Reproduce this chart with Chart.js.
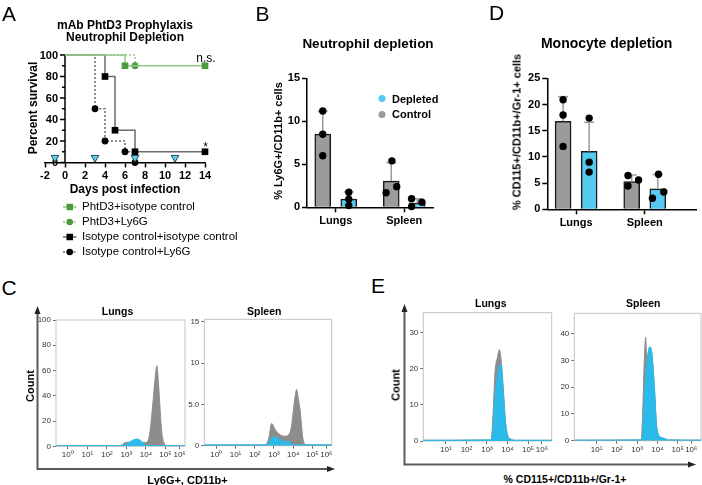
<!DOCTYPE html>
<html>
<head>
<meta charset="utf-8">
<script src="https://cdn.jsdelivr.net/npm/chart.js@4.4.1/dist/chart.umd.min.js"></script>
<style>
  body { margin: 0; background: #fff; }
  #fig { position: relative; width: 702px; height: 485px; overflow: hidden;
         font-family: Arial, "Liberation Sans", Helvetica, sans-serif; color: #000; }
  .box { position: absolute; }
  .t { position: absolute; transform: translate(-50%, -50%); white-space: nowrap; line-height: 1; }
  .r { transform: translate(-50%, -50%) rotate(-90deg); }
  .b { font-weight: bold; }
  .L { font-size: 21px; }
  .leg { position: absolute; transform: translateY(-50%); display: flex; align-items: center;
         white-space: nowrap; line-height: 1; }
</style>
</head>
<body>
<div id="fig">
  <svg width="702" height="485" style="position:absolute;left:0;top:0">
    <g stroke="#5a5a5a" stroke-width="2" fill="none">
      <polyline points="37.5,312 37.5,469 330,469"/>
      <polyline points="404.5,310 404.5,464.5 691,464.5"/>
    </g>
    <g fill="#222">
      <polygon points="37.5,306 34.5,314 40.5,314"/>
      <polygon points="335,469 327,466 327,472"/>
      <polygon points="404.5,304 401.5,312 407.5,312"/>
      <polygon points="696,464.5 688,461.5 688,467.5"/>
    </g>
  </svg>

  <div class="box" style="left:0;top:0;width:240px;height:200px"><canvas id="cA"></canvas></div>
  <div class="box" style="left:280px;top:60px;width:160px;height:175px"><canvas id="cB"></canvas></div>
  <div class="box" style="left:515px;top:60px;width:187px;height:175px"><canvas id="cD"></canvas></div>
  <div class="box" style="left:30px;top:300px;width:160px;height:165px"><canvas id="cC1"></canvas></div>
  <div class="box" style="left:180px;top:300px;width:160px;height:165px"><canvas id="cC2"></canvas></div>
  <div class="box" style="left:395px;top:295px;width:160px;height:165px"><canvas id="cE1"></canvas></div>
  <div class="box" style="left:545px;top:295px;width:157px;height:165px"><canvas id="cE2"></canvas></div>

  <div class="t L" style="left:9px;top:12.5px">A</div>
  <div class="t L" style="left:262.5px;top:12.5px">B</div>
  <div class="t L" style="left:496.5px;top:11.5px">D</div>
  <div class="t L" style="left:9px;top:286.5px">C</div>
  <div class="t L" style="left:378px;top:285px">E</div>

  <div class="t b" style="left:125px;top:24.5px;font-size:12px">mAb PhtD3 Prophylaxis</div>
  <div class="t b" style="left:125px;top:36.7px;font-size:12px">Neutrophil Depletion</div>
  <div class="t b r" style="left:33px;top:108px;font-size:12px">Percent survival</div>
  <div class="t b" style="left:125px;top:189px;font-size:12px">Days post infection</div>
  <div class="t" style="left:206px;top:58px;font-size:12px">n.s.</div>
  <div class="t" style="left:205.7px;top:147px;font-size:12px">*</div>
  <div id="legA"></div>

  <div class="t b" style="left:368px;top:43.8px;font-size:13.5px">Neutrophil depletion</div>
  <div class="t b r" style="left:277.5px;top:141px;font-size:11px">% Ly6G+/CD11b+ cells</div>
  <div id="legB"></div>

  <div class="t b" style="left:606.7px;top:42.5px;font-size:14px">Monocyte depletion</div>
  <div class="t b r" style="left:517px;top:131.7px;font-size:11px">% CD115+/CD11b+/Gr-1+ cells</div>

  <div class="t b" style="left:117.5px;top:310.5px;font-size:10.5px">Lungs</div>
  <div class="t b" style="left:264.2px;top:310.5px;font-size:10.5px">Spleen</div>
  <div class="t b r" style="left:30px;top:386px;font-size:11px">Count</div>
  <div class="t b" style="left:187.5px;top:479.5px;font-size:11px">Ly6G+, CD11b+</div>

  <div class="t b" style="left:490.8px;top:303px;font-size:10.5px">Lungs</div>
  <div class="t b" style="left:643.2px;top:303px;font-size:10.5px">Spleen</div>
  <div class="t b r" style="left:395.7px;top:385px;font-size:11px">Count</div>
  <div class="t b" style="left:565px;top:478.5px;font-size:10.5px">% CD115+/CD11b+/Gr-1+</div>
</div>

<script>
// ---- A: survival (Kaplan-Meier) ----
const survivalTicks = [0, 20, 40, 60, 80, 100];
const phtIsoDays = [0, 6, 14];
const phtIsoSurv = [100, 90, 90];
const phtLyDays  = [0, 7];
const phtLySurv  = [100, 90];
const isoIsoDays = [0, 4, 5, 7, 14];
const isoIsoSurv = [100, 80, 30, 10, 10];
const isoLyDays  = [0, 3, 4, 6, 7];
const isoLySurv  = [100, 50, 20, 10, 0];
const doseDays   = [-1, 3, 7, 11];
const doseMarkY  = 4.5;

// ---- B: neutrophil depletion ----
const organs    = ['Lungs', 'Spleen'];
const bTicks    = [0, 5, 10, 15];
const bCtrlMean = [8.5, 3.05];
const bCtrlSD   = [2.65, 2.15];
const bCtrlPts  = [[11.2, 8.5, 6.0], [5.4, 2.4, 1.7]];
const bDeplMean = [0.95, 0.48];
const bDeplSD   = [0.85, 0.5];
const bDeplPts  = [[1.75, 0.95, 0.2], [1.0, 0.58, 0.08]];

// ---- D: monocyte depletion ----
const dTicks    = [0, 5, 10, 15, 20, 25];
const dCtrlMean = [16.8, 5.3];
const dCtrlSD   = [4.7, 1.25];
const dCtrlPts  = [[20.9, 18.0, 12.0], [6.45, 5.6, 4.45]];
const dDeplMean = [11.05, 3.9];
const dDeplSD   = [5.55, 2.75];
const dDeplPts  = [[17.4, 9.0, 7.1], [6.7, 3.3, 2.1]];

// horizontal scatter of the dots (category units)
const bCtrlJit = [[0, 0, 0], [0.01, 0.08, -0.075]];
const bDeplJit = [[0, 0, 0], [-0.083, 0.068, -0.083]];
const dCtrlJit = [[0, 0, 0], [-0.054, 0.1, -0.054]];
const dDeplJit = [[0, 0, 0], [0.01, 0.088, -0.078]];

// ---- C / E: flow histograms (x in decades on display scale) ----
const cTickPos = [0, 1, 2, 3, 4, 5, 5.72];
const cTickLbl = ['10⁰', '10¹', '10²', '10³', '10⁴', '10⁵', '10⁶'];
const eTickPos = [1, 2, 3, 4, 5, 5.67];
const eTickLbl = ['10¹', '10²', '10³', '10⁴', '10⁵', '10⁶'];

const cLungX    = [-0.6, 2.6, 2.75, 2.95, 3.15, 3.35, 3.55, 3.75, 3.95, 4.1, 4.25, 4.4, 4.5, 4.56, 4.62, 4.7, 4.8, 4.93, 5.1, 6.0];
const cLungGray = [0.3, 0.3, 1.0, 3.0, 3.2, 3.5, 3.5, 3.3, 3.0, 4.0, 17, 42, 58, 63.7, 55, 36, 13, 2.5, 0.4, 0.3];
const cLungBlue = [0.4, 0.4, 0.5, 1.2, 3.2, 5.0, 5.8, 4.2, 1.2, 0.5, 0.4, 0.4, 0.4, 0.4, 0.4, 0.4, 0.4, 0.4, 0.4, 0.4];
const cLungY    = [0, 20, 40, 60, 80, 100];

const cSplX    = [-0.62, 2.55, 2.72, 2.88, 3.05, 3.3, 3.55, 3.75, 3.9, 4.02, 4.1, 4.18, 4.27, 4.36, 4.49, 4.62, 6.0];
const cSplGray = [0.08, 0.08, 0.8, 2.7, 2.0, 1.35, 1.15, 1.3, 2.2, 4.5, 6.0, 6.8, 5.6, 4.3, 1.1, 0.15, 0.08];
const cSplBlue = [0.1, 0.1, 0.3, 0.9, 1.07, 0.75, 0.45, 0.55, 0.25, 0.1, 0.1, 0.1, 0.1, 0.1, 0.1, 0.1, 0.1];
const cSplY    = [0, 5, 10, 15];
const cSplYLbl = ['0', '5.0', '10', '15'];

const eLungX    = [-0.1, 3.2, 3.3, 3.39, 3.5, 3.6, 3.68, 3.8, 3.9, 4.0, 4.15, 4.4, 6.15];
const eLungGray = [0.2, 0.3, 8, 19, 23, 25.3, 23, 14, 5.5, 1.8, 0.5, 0.2, 0.2];
const eLungBlue = [0.2, 0.3, 4, 12, 17.5, 21, 21.2, 13.2, 5, 1.6, 0.5, 0.2, 0.2];
const eLungY    = [0, 10, 20, 30];

const eSplX    = [-0.1, 3.2, 3.27, 3.33, 3.38, 3.42, 3.47, 3.55, 3.62, 3.72, 3.85, 3.95, 4.06, 4.3, 4.55, 6.15];
const eSplGray = [0.2, 0.3, 10, 25, 35, 38.7, 31, 33, 35, 33, 20, 6.5, 2.1, 0.9, 0.3, 0.2];
const eSplBlue = [0.2, 0.3, 3, 11.5, 19, 24, 28, 33, 35.2, 33, 20.2, 6.5, 2.1, 0.9, 0.3, 0.2];
const eSplY    = [0, 10, 20, 30, 40];

// colours
const greenLine = '#93c987', greenMark = '#4b9c3d';
const blackLine = '#6b6b6b', blackMark = '#000';
const barGray = '#9b9b9b', barBlue = '#56c9f0';
const histGray = '#8d8d8d', histBlue = '#2bbbea';
const groupOff = 0.19;

Chart.defaults.font.family = 'Arial, "Liberation Sans", Helvetica, sans-serif';
Chart.defaults.color = '#000';
Chart.defaults.animation = false;
Chart.defaults.maintainAspectRatio = false;
Chart.defaults.plugins.legend.display = false;
Chart.defaults.plugins.tooltip.enabled = false;

const boldTick = { weight: 'bold', size: 11 };
const axisGrid = { display: true, drawOnChartArea: false, offset: false, tickLength: 5, tickColor: '#000', tickWidth: 1.5 };
const axisBorder = { color: '#000', width: 1.5 };

// ---------------- A ----------------
const survSeries = [
  { name: 'PhtD3+isotype control', days: phtIsoDays, surv: phtIsoSurv, line: greenLine, mark: greenMark, style: 'rect', dash: false },
  { name: 'PhtD3+Ly6G', days: phtLyDays, surv: phtLySurv, line: greenLine, mark: greenMark, style: 'circle', dash: true },
  { name: 'Isotype control+isotype control', days: isoIsoDays, surv: isoIsoSurv, line: blackLine, mark: blackMark, style: 'rect', dash: false },
  { name: 'Isotype control+Ly6G', days: isoLyDays, surv: isoLySurv, line: blackLine, mark: blackMark, style: 'circle', dash: true }
];

// y axis crosses x at day 0, drawn from the y scale
const yAxisAtZero = {
  id: 'yAxisAtZero',
  beforeDatasetsDraw(chart) {
    const { ctx, scales: { x, y } } = chart;
    const px = x.getPixelForValue(0);
    ctx.save();
    ctx.strokeStyle = '#000';
    ctx.lineWidth = 1.5;
    ctx.beginPath();
    ctx.moveTo(px, y.getPixelForValue(0));
    ctx.lineTo(px, y.getPixelForValue(100));
    for (let v = 0; v <= 100; v += 10) {
      const py = y.getPixelForValue(v);
      ctx.moveTo(px - (v % 20 ? 3 : 5), py);
      ctx.lineTo(px, py);
    }
    ctx.stroke();
    ctx.fillStyle = '#000';
    ctx.font = 'bold 11px Arial, "Liberation Sans", sans-serif';
    ctx.textAlign = 'right';
    ctx.textBaseline = 'middle';
    survivalTicks.forEach(v => ctx.fillText(v, px - 7, y.getPixelForValue(v) + 0.5));
    ctx.restore();
  }
};

const survSets = survSeries.map(s => ({
  label: s.name,
  data: s.days.map((d, i) => ({ x: d, y: s.surv[i] })),
  stepped: 'before',
  borderColor: s.line,
  borderWidth: 1.5,
  borderDash: s.dash ? [2, 2] : [],
  pointStyle: s.style,
  pointRadius: s.days.map((d, i) => i === 0 ? 0 : (s.style === 'rect' ? 4.7 : 3.4)),
  pointBackgroundColor: s.mark,
  pointBorderColor: s.mark,
  pointBorderWidth: 0,
  clip: false
}));

new Chart(document.getElementById('cA'), {
  type: 'line',
  data: {
    datasets: [{
      label: 'dose',
      data: doseDays.map(d => ({ x: d, y: doseMarkY })),
      showLine: false,
      pointStyle: 'triangle',
      rotation: 180,
      pointRadius: 4.5,
      pointBackgroundColor: '#62d0e6',
      pointBorderColor: '#27475c',
      pointBorderWidth: 1,
      clip: false
    }, ...survSets]
  },
  options: {
    layout: { padding: { left: 45, right: 35, top: 55, bottom: 0 } },
    scales: {
      x: {
        type: 'linear', min: -2, max: 14,
        afterFit: s => { s.height = 37.5; },
        ticks: { stepSize: 2, font: boldTick, padding: 2, maxRotation: 0 },
        grid: axisGrid, border: axisBorder
      },
      y: { min: 0, max: 100, display: false }
    }
  },
  plugins: [yAxisAtZero]
});

// legend A
const legA = document.getElementById('legA');
survSeries.forEach((s, i) => {
  const row = document.createElement('div');
  row.className = 'leg';
  row.style.left = '63px';
  row.style.top = (207 + 15 * i) + 'px';
  row.style.fontSize = '11.5px';
  const mark = s.style === 'rect'
    ? `<rect x="3.5" y="1.5" width="6.5" height="6.5" fill="${s.mark}"/>`
    : `<circle cx="6.75" cy="4.75" r="3.3" fill="${s.mark}"/>`;
  row.innerHTML = `<svg width="14" height="9.5" style="margin-right:5px"><line x1="0" y1="4.75" x2="13.5" y2="4.75" stroke="${s.line}" stroke-width="1.5"${s.dash ? ' stroke-dasharray="2,1.5"' : ''}/>${mark}</svg><span>${s.name}</span>`;
  legA.appendChild(row);
});

// ---------------- B / D ----------------
function barPanel(id, o) {
  const bars = [], colors = [], sd = [], dots = [];
  organs.forEach((org, i) => {
    [[o.ctrlMean, o.ctrlSD, o.ctrlPts, o.ctrlJit, -groupOff, barGray],
     [o.deplMean, o.deplSD, o.deplPts, o.deplJit, groupOff, barBlue]].forEach(([m, s, p, j, off, col]) => {
      const x = i + off;
      bars.push({ x, y: m[i] });
      colors.push(col);
      sd.push({ x, y: m[i] }, { x, y: m[i] + s[i] }, { x, y: null });
      p[i].forEach((v, k) => dots.push({ x: x + j[i][k], y: v }));
    });
  });
  new Chart(document.getElementById(id), {
    type: 'bar',
    data: {
      datasets: [
        { type: 'scatter', label: 'values', data: dots, pointRadius: 3.7,
          pointBackgroundColor: '#000', pointBorderColor: '#000', pointBorderWidth: 0, order: 0, clip: false },
        { type: 'line', label: 'SD', data: sd, spanGaps: false, borderColor: '#9a9a9a', borderWidth: 1.5,
          pointStyle: 'line', pointRadius: c => c.dataIndex % 3 === 1 ? 5 : 0,
          pointBorderColor: '#9a9a9a', pointBorderWidth: 1.5, order: 1, clip: false },
        { type: 'bar', label: 'mean', data: bars, backgroundColor: colors, borderColor: '#1a1a1a',
          borderWidth: 1.5, barThickness: 16, order: 2 }
      ]
    },
    options: {
      layout: { padding: { left: 0, right: o.padRight, top: 18.3, bottom: 0 } },
      scales: {
        x: {
          type: 'linear', min: -0.42, max: o.xMax, offset: false, stacked: false,
          afterBuildTicks: s => { s.ticks = organs.map((g, i) => ({ value: i })); },
          afterFit: s => { s.height = o.xHeight; },
          ticks: { callback: (v, i) => organs[i], font: boldTick, padding: 2, autoSkip: false, maxRotation: 0 },
          grid: axisGrid, border: axisBorder
        },
        y: {
          min: 0, max: o.ticks[o.ticks.length - 1], stacked: false,
          afterBuildTicks: s => { s.ticks = o.ticks.map(v => ({ value: v })); },
          afterFit: s => { s.width = o.yWidth; },
          ticks: { font: boldTick, padding: 2 },
          grid: axisGrid, border: axisBorder
        }
      }
    }
  });
}

barPanel('cB', { ticks: bTicks, ctrlMean: bCtrlMean, ctrlSD: bCtrlSD, ctrlPts: bCtrlPts, ctrlJit: bCtrlJit,
  deplMean: bDeplMean, deplSD: bDeplSD, deplPts: bDeplPts, deplJit: bDeplJit,
  xMax: 1.42, yWidth: 27, xHeight: 27.7, padRight: 7 });
barPanel('cD', { ticks: dTicks, ctrlMean: dCtrlMean, ctrlSD: dCtrlSD, ctrlPts: dCtrlPts, ctrlJit: dCtrlJit,
  deplMean: dDeplMean, deplSD: dDeplSD, deplPts: dDeplPts, deplJit: dDeplJit,
  xMax: 1.757, yWidth: 32.3, xHeight: 25.7, padRight: 5.3 });

// legend B
const legB = document.getElementById('legB');
[['Depleted', barBlue], ['Control', barGray]].forEach(([name, col], i) => {
  const row = document.createElement('div');
  row.className = 'leg b';
  row.style.left = '378px';
  row.style.top = (98.7 + 15.6 * i) + 'px';
  row.style.fontSize = '11px';
  row.innerHTML = `<svg width="8" height="8" style="margin-right:6px"><circle cx="4" cy="4" r="3.5" fill="${col}"/></svg><span>${name}</span>`;
  legB.appendChild(row);
});

// ---------------- C / E ----------------
const plotBox = {
  id: 'plotBox',
  beforeDatasetsDraw(chart) {
    const { ctx, chartArea: a } = chart;
    ctx.save();
    ctx.strokeStyle = '#c4c4c4';
    ctx.lineWidth = 1;
    ctx.strokeRect(a.left, a.top, a.right - a.left, a.bottom - a.top);
    ctx.restore();
  }
};

function histPanel(id, o) {
  const mk = (vals, col) => ({
    data: o.xs.map((x, i) => ({ x, y: vals[i] })),
    fill: 'origin', backgroundColor: col, borderColor: col, borderWidth: 1,
    pointRadius: 0, cubicInterpolationMode: 'monotone'
  });
  const tickFont = { size: 8 };
  const tickGrid = { display: true, drawOnChartArea: false, tickLength: 3, tickColor: '#666', tickWidth: 1 };
  new Chart(document.getElementById(id), {
    type: 'line',
    data: { datasets: [mk(o.blue, histBlue), mk(o.gray, histGray)] },
    options: {
      layout: { padding: { left: 0, right: o.padRight, top: o.padTop, bottom: 0 } },
      scales: {
        x: {
          type: 'linear', min: o.xs[0], max: o.xs[o.xs.length - 1],
          afterBuildTicks: s => { s.ticks = o.xTickPos.map(v => ({ value: v })); },
          afterFit: s => { s.height = o.xHeight; },
          ticks: { callback: (v, i) => o.xTickLbl[i], font: tickFont, color: '#333', padding: 1, autoSkip: false, maxRotation: 0 },
          grid: tickGrid, border: { display: false }
        },
        y: {
          min: 0, max: o.yMax,
          afterBuildTicks: s => { s.ticks = o.yTicks.map(v => ({ value: v })); },
          afterFit: s => { s.width = o.yWidth; },
          ticks: { callback: (v, i) => o.yLbl ? o.yLbl[i] : v, font: tickFont, color: '#333', padding: 2 },
          grid: tickGrid, border: { display: false }
        }
      }
    },
    plugins: [plotBox]
  });
}

histPanel('cC1', { xs: cLungX, gray: cLungGray, blue: cLungBlue, xTickPos: cTickPos, xTickLbl: cTickLbl,
  yMax: 100, yTicks: cLungY, yWidth: 26, xHeight: 18.7, padRight: 5, padTop: 20 });
histPanel('cC2', { xs: cSplX, gray: cSplGray, blue: cSplBlue, xTickPos: cTickPos, xTickLbl: cTickLbl,
  yMax: 15.3, yTicks: cSplY, yLbl: cSplYLbl, yWidth: 24.3, xHeight: 19.3, padRight: 8.3, padTop: 19.3 });
histPanel('cE1', { xs: eLungX, gray: eLungGray, blue: eLungBlue, xTickPos: eTickPos, xTickLbl: eTickLbl,
  yMax: 35.6, yTicks: eLungY, yWidth: 28.3, xHeight: 19, padRight: 3.3, padTop: 17.7 });
histPanel('cE2', { xs: eSplX, gray: eSplGray, blue: eSplBlue, xTickPos: eTickPos, xTickLbl: eTickLbl,
  yMax: 47.7, yTicks: eSplY, yWidth: 29.3, xHeight: 19.3, padRight: 1, padTop: 18.3 });
</script>
</body>
</html>
